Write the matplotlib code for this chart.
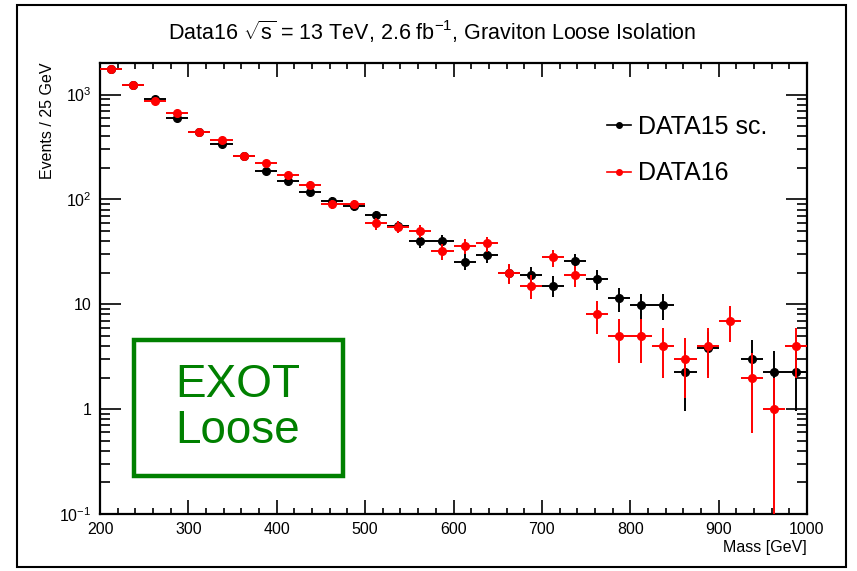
import matplotlib
matplotlib.use("Agg")
import matplotlib.pyplot as plt
from matplotlib.lines import Line2D
from matplotlib.patches import Rectangle
from matplotlib.ticker import FixedLocator, MultipleLocator, LogLocator, NullFormatter, FuncFormatter
import numpy as np

plt.rcParams['font.family'] = ['Liberation Sans', 'DejaVu Sans']
plt.rcParams['mathtext.fontset'] = 'custom'
plt.rcParams['mathtext.rm'] = 'Liberation Sans'
plt.rcParams['mathtext.it'] = 'Liberation Sans:italic'

# mass bin centres (25 GeV bins)
mass = [212.5, 237.5, 262.5, 287.5, 312.5, 337.5, 362.5, 387.5,
        412.5, 437.5, 462.5, 487.5, 512.5, 537.5, 562.5, 587.5,
        612.5, 637.5, 662.5, 687.5, 712.5, 737.5, 762.5, 787.5,
        812.5, 837.5, 862.5, 887.5, 912.5, 937.5, 962.5, 987.5]

data16 = [1760, 1245, 863, 663, 440, 366, 258, 221,
          171, 138, 90, 90, 59, 55, 50, 32,
          36, 38, 20, 15, 28, 19, 8, 5,
          5, 4, 3, 4, 7, 2, 1, 4]

data15_sc = [1760, 1245, 910, 594, 440, 338, 258, 187,
             151, 117, 97, 86, 71, 56, 40, 40,
             25.5, 29.5, 19.7, 19.1, 15.1, 25.7, 17.4, 11.4,
             9.8, 9.8, 2.27, 3.8, np.nan, 3.03, 2.27, 2.27]

scale15 = 0.757   # scale factor applied to DATA15
bin_half = 12.5

yticks = [0.1, 1, 10, 100, 1000]
ytick_labels = {0.1: r'$10^{-1}$', 1: '1', 10: '10', 100: r'$10^{2}$', 1000: r'$10^{3}$'}

d16 = np.array(data16, dtype=float)
d15 = np.array(data15_sc, dtype=float)
err16 = np.sqrt(d16)
err15 = np.sqrt(d15 * scale15)

fig = plt.figure(figsize=(8.57, 5.71), dpi=100)
ax = fig.add_axes([100/857, 57/571, 707/857, 451/571])

ax.errorbar(mass, d15, xerr=bin_half, yerr=err15, fmt='o', color='black',
            ms=5.5, lw=1.4, capsize=0, zorder=3)
ax.errorbar(mass, d16, xerr=bin_half, yerr=err16, fmt='o', color='red',
            ms=5.5, lw=1.4, capsize=0, zorder=4)

ax.set_xlim(200, 1000)
ax.set_yscale('log')
ax.set_ylim(0.1, 2000)

ax.xaxis.set_major_locator(MultipleLocator(100))
ax.xaxis.set_minor_locator(MultipleLocator(20))
ax.yaxis.set_major_locator(FixedLocator(yticks))
ax.yaxis.set_major_formatter(FuncFormatter(lambda v, p: ytick_labels.get(round(v, 3), '')))
ax.yaxis.set_minor_locator(LogLocator(base=10, subs=np.arange(2, 10)))
ax.yaxis.set_minor_formatter(NullFormatter())

ax.tick_params(which='both', direction='in', top=True, right=True, width=1.2, labelsize=11.5)
ax.tick_params(axis='x', which='major', length=10, pad=6)
ax.tick_params(axis='x', which='minor', length=4.5)
ax.tick_params(axis='y', which='major', length=15, pad=6)
ax.tick_params(axis='y', which='minor', length=7.5)
for s in ax.spines.values():
    s.set_linewidth(1.6)

ax.set_xlabel('Mass [GeV]', fontsize=11.5, loc='right', labelpad=2)
ax.set_ylabel('Events / 25 GeV', fontsize=11.5, loc='top', labelpad=3)

fig.text(0.504, 0.945, r'Data16 $\sqrt{\mathrm{s}}$ = 13 TeV, 2.6 fb$^{-1}$, Graviton Loose Isolation',
         ha='center', va='center', fontsize=15.5)

handles = [Line2D([], [], color='black', marker='o', ms=4, lw=1.2),
           Line2D([], [], color='red', marker='o', ms=4, lw=1.2)]
ax.legend(handles, ['DATA15 sc.', 'DATA16'], loc='upper left',
          bbox_to_anchor=(0.685, 0.935), frameon=False, fontsize=18,
          handlelength=0.95, handletextpad=0.3, labelspacing=0.9)

# EXOT Loose box
ax.add_patch(Rectangle((134/857, (571-476)/571), 209/857, 136/571, transform=fig.transFigure,
                       fill=False, edgecolor='#008000', lw=3.2, zorder=5, clip_on=False))
fig.text(238/857, (571-408)/571, 'EXOT\nLoose', color='#008000', fontsize=33,
         ha='center', va='center', linespacing=1.05)

# outer frame
fig.add_artist(Rectangle((17/857, 4/571), 829/857, 562/571, transform=fig.transFigure,
                         fill=False, edgecolor='black', lw=1.5))

fig.savefig('out.png', dpi=100)
